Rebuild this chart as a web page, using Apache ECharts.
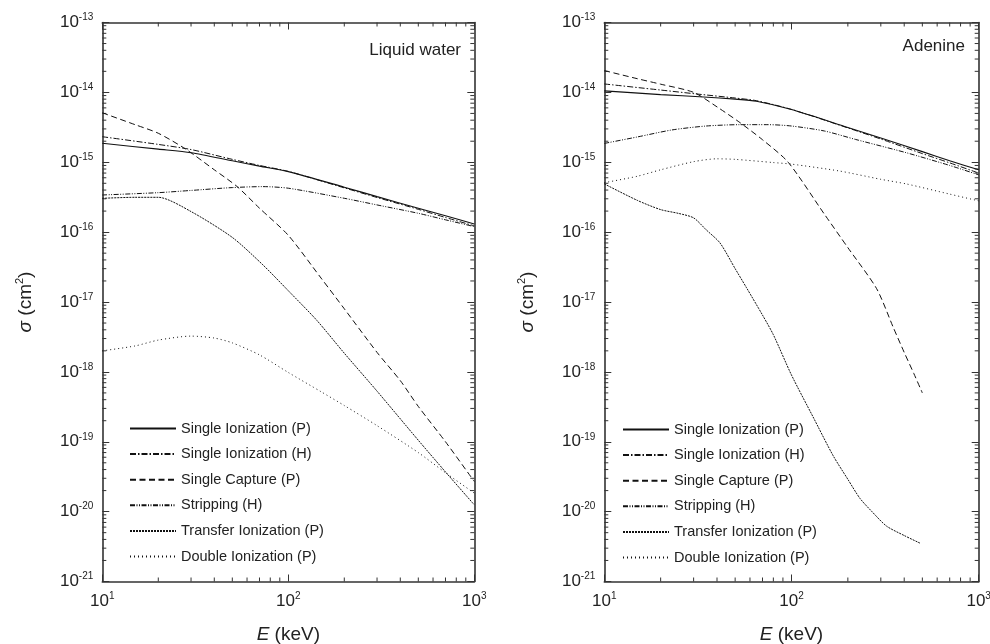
<!DOCTYPE html>
<html>
<head>
<meta charset="utf-8">
<script src="https://cdn.jsdelivr.net/npm/echarts@6/dist/echarts.min.js"></script>
<style>
html,body{margin:0;padding:0;background:#fff;}
#chart{width:990px;height:644px;}
</style>
</head>
<body>
<div id="chart"></div>
<script>
// ---------- data: [E (keV), sigma (cm^2)] ----------
const seriesNames = ['Single Ionization (P)','Single Ionization (H)','Single Capture (P)','Stripping (H)','Transfer Ionization (P)','Double Ionization (P)'];
const panelTitles = ['Liquid water','Adenine'];

const waterSIP = [[10,1.87e-15],[20,1.54e-15],[30,1.37e-15],[50,1.05e-15],[70,8.8e-16],[100,7.35e-16],[200,4.4e-16],[300,3.22e-16],[500,2.2e-16],[700,1.71e-16],[1000,1.31e-16]];
const waterSIH = [[10,2.32e-15],[20,1.8e-15],[30,1.52e-15],[50,1.1e-15],[70,9.0e-16],[100,7.4e-16],[200,4.3e-16],[300,3.13e-16],[500,2.12e-16],[700,1.62e-16],[1000,1.23e-16]];
const waterSCP = [[10,5.1e-15],[15,3.45e-15],[20,2.6e-15],[28,1.55e-15],[40,7.8e-16],[53,4.5e-16],[70,2.2e-16],[100,9e-17],[150,2.2e-17],[200,8e-18],[300,1.9e-18],[400,7.5e-19],[500,3.2e-19],[700,1e-19],[1000,2.7e-20]];
const waterStrip = [[10,3.4e-16],[20,3.67e-16],[30,3.95e-16],[50,4.34e-16],[73,4.48e-16],[100,4.25e-16],[200,3.05e-16],[300,2.45e-16],[500,1.86e-16],[700,1.5e-16],[1000,1.2e-16]];
const waterTI = [[10,3.05e-16],[15,3.15e-16],[20,3.15e-16],[30,1.97e-16],[50,8.4e-17],[73,3.4e-17],[100,1.45e-17],[142,5.5e-18],[200,1.85e-18],[300,5.3e-19],[500,1.05e-19],[700,3.7e-20],[1000,1.25e-20]];
const waterDI = [[10,2.0e-18],[15,2.35e-18],[20,2.85e-18],[30,3.25e-18],[40,3.05e-18],[50,2.6e-18],[70,1.75e-18],[100,9.8e-19],[150,5.2e-19],[200,3.3e-19],[300,1.7e-19],[500,7e-20],[700,3.6e-20],[1000,1.84e-20]];

const adeSIP = [[10,1.05e-14],[20,9.3e-15],[34,8.6e-15],[50,8.0e-15],[65,7.45e-15],[100,5.67e-15],[200,3.15e-15],[300,2.23e-15],[500,1.42e-15],[700,1.05e-15],[1000,7.8e-16]];
const adeSIH = [[10,1.32e-14],[20,1.08e-14],[31,9.5e-15],[50,8.3e-15],[65,7.6e-15],[100,5.7e-15],[200,3.1e-15],[300,2.15e-15],[500,1.33e-15],[700,9.8e-16],[1000,7.0e-16]];
const adeSCP = [[10,2.05e-14],[15,1.57e-14],[20,1.31e-14],[30,1.0e-14],[40,6.2e-15],[53,3.7e-15],[70,2.1e-15],[96,1.0e-15],[150,1.8e-16],[200,6e-17],[285,1.55e-17],[350,4.3e-18],[400,1.9e-18],[450,9.5e-19],[500,5e-19]];
const adeStrip = [[10,1.86e-15],[15,2.3e-15],[23,2.9e-15],[35,3.3e-15],[53,3.45e-15],[75,3.45e-15],[100,3.3e-15],[150,2.8e-15],[220,2.12e-15],[410,1.37e-15],[700,9.0e-16],[1000,6.6e-16]];
const adeTI = [[10,4.9e-16],[15,2.85e-16],[20,2.1e-16],[25,1.85e-16],[30,1.6e-16],[35,1.08e-16],[41.5,7e-17],[50,3.0e-17],[57.5,1.6e-17],[70,6.5e-18],[80,3.4e-18],[100,9e-19],[130,2.3e-19],[167,6.3e-20],[200,2.9e-20],[232,1.55e-20],[270,9.9e-21],[322,6.2e-21],[400,4.55e-21],[490,3.5e-21]];
const adeDI = [[10,5.1e-16],[15,6.3e-16],[20,7.8e-16],[30,1.02e-15],[40,1.12e-15],[50,1.1e-15],[80,9.9e-16],[100,9.4e-16],[180,7.5e-16],[300,5.7e-16],[410,4.9e-16],[700,3.5e-16],[1000,2.8e-16]];

const xRange = [10, 1000];
const yRange = [1e-21, 1e-13];
// the y axis works in units of 1e-21 cm^2 (the log scale mishandles very tiny numbers); labels show true powers
const Y_UNIT_EXP = -21;
const Y_UNIT = 1e-21;

// ---------- styles ----------
const FONT = 'Liberation Sans, Arial, Helvetica, sans-serif';
const INK = '#222';
const AX = '#333';
const dashStyles = ['solid', [6,2,1.5,2], [6,3.5], [5,1.5,1,1.5,1,1.5], [2,1], [1,3]];
const lineWidths = [1.1, 1, 1, 1, 1, 1];

const chart = echarts.init(document.getElementById('chart'), null, {renderer: 'canvas'});

const grids = [
  {left: 102.3, top: 22.5, width: 372, height: 559, containLabel: false, outerBoundsMode: 'none'},
  {left: 604.3, top: 22.5, width: 374.4, height: 559, containLabel: false, outerBoundsMode: 'none'}
];
const yMinScaled = Math.round(yRange[0] / Y_UNIT);
const yMaxScaled = Math.round(yRange[1] / Y_UNIT);

function xLabel(v) {
  return '{b|10}{s|' + Math.round(Math.log10(v)) + '}';
}
function yLabel(v) {
  return '{b|10}{s|' + (Math.round(Math.log10(v)) + Y_UNIT_EXP) + '}';
}
const labelRich = {
  b: {fontSize: 17, fontFamily: FONT, color: INK, lineHeight: 20},
  s: {fontSize: 10, fontFamily: FONT, color: INK, lineHeight: 12, verticalAlign: 'top'}
};

const xAxes = [], yAxes = [];
grids.forEach(function (g, i) {
  xAxes.push({
    type: 'log', logBase: 10, gridIndex: i, min: xRange[0], max: xRange[1], position: 'bottom',
    splitNumber: 2,
    axisLine: {show: true, lineStyle: {color: AX, width: 1.6}},
    axisTick: {show: true, inside: true, length: 7, lineStyle: {color: AX, width: 1}},
    axisLabel: {show: true, margin: 10, formatter: xLabel, rich: labelRich},
    splitLine: {show: false},
    name: '{i|E} (keV)', nameLocation: 'middle', nameGap: 44,
    nameTextStyle: {fontSize: 19, fontFamily: FONT, color: INK, rich: {i: {fontSize: 19, fontStyle: 'italic', fontFamily: FONT, color: INK}}}
  });
  xAxes.push({
    type: 'log', logBase: 10, gridIndex: i, min: xRange[0], max: xRange[1], position: 'top',
    splitNumber: 2,
    axisLine: {show: true, lineStyle: {color: AX, width: 1.6}},
    axisTick: {show: true, inside: true, length: 7, lineStyle: {color: AX, width: 1}},
    axisLabel: {show: false}, splitLine: {show: false}
  });
  yAxes.push({
    type: 'log', logBase: 10, gridIndex: i, min: yMinScaled, max: yMaxScaled, position: 'left',
    splitNumber: 8,
    axisLine: {show: true, lineStyle: {color: AX, width: 1.6}},
    axisTick: {show: true, inside: true, length: 7, lineStyle: {color: AX, width: 1}},
    axisLabel: {show: true, margin: 9, formatter: yLabel, rich: labelRich},
    splitLine: {show: false},
    name: '{i|σ} (cm{s|2})', nameLocation: 'middle', nameGap: 66, nameRotate: 90,
    nameTextStyle: {fontSize: 19, fontFamily: FONT, color: INK, rich: {
      i: {fontSize: 19, fontStyle: 'italic', fontFamily: FONT, color: INK, lineHeight: 22},
      s: {fontSize: 11, fontFamily: FONT, color: INK, lineHeight: 12, verticalAlign: 'top'}
    }}
  });
  yAxes.push({
    type: 'log', logBase: 10, gridIndex: i, min: yMinScaled, max: yMaxScaled, position: 'right',
    splitNumber: 8,
    axisLine: {show: true, lineStyle: {color: AX, width: 1.6}},
    axisTick: {show: true, inside: true, length: 7, lineStyle: {color: AX, width: 1}},
    axisLabel: {show: false}, splitLine: {show: false}
  });
});

// minor tick values (2..9 x decade), derived from the axis ranges
function minorValues(lo, hi) {
  const out = [];
  for (let e = Math.round(Math.log10(lo)); e < Math.round(Math.log10(hi)); e++) {
    for (let m = 2; m <= 9; m++) out.push(m * Math.pow(10, e));
  }
  return out;
}
const xMinor = minorValues(xRange[0], xRange[1]);
const yMinor = minorValues(yMinScaled, yMaxScaled);
const yMid = 1e4;

function tickLine(x1, y1, x2, y2) {
  return {type: 'line', shape: {x1: x1, y1: y1, x2: x2, y2: y2}, style: {stroke: AX, lineWidth: 1}, silent: true};
}

const series = [];
const panelData = [
  [waterSIP, waterSIH, waterSCP, waterStrip, waterTI, waterDI],
  [adeSIP, adeSIH, adeSCP, adeStrip, adeTI, adeDI]
];
panelData.forEach(function (list, p) {
  list.forEach(function (d, k) {
    series.push({
      type: 'line', name: seriesNames[k], xAxisIndex: p * 2, yAxisIndex: p * 2,
      data: d.map(function (pt) { return [pt[0], pt[1] / Y_UNIT]; }),
      symbol: 'none', showSymbol: false, smooth: 0.25, clip: true,
      lineStyle: {color: '#111', width: lineWidths[k], type: dashStyles[k]},
      itemStyle: {color: '#111'},
      emphasis: {disabled: true}
    });
  });
  series.push({
    type: 'custom', xAxisIndex: p * 2, yAxisIndex: p * 2, silent: true,
    data: xMinor.map(function (v) { return [v, yMid]; }),
    renderItem: function (params, api) {
      const x = api.coord([api.value(0), yMid])[0];
      const cs = params.coordSys;
      return {type: 'group', children: [
        tickLine(x, cs.y + cs.height, x, cs.y + cs.height - 4),
        tickLine(x, cs.y, x, cs.y + 4)
      ]};
    }
  });
  series.push({
    type: 'custom', xAxisIndex: p * 2, yAxisIndex: p * 2, silent: true,
    data: yMinor.map(function (v) { return [100, v]; }),
    renderItem: function (params, api) {
      const y = api.coord([100, api.value(1)])[1];
      const cs = params.coordSys;
      return {type: 'group', children: [
        tickLine(cs.x, y, cs.x + 4, y),
        tickLine(cs.x + cs.width, y, cs.x + cs.width - 4, y)
      ]};
    }
  });
});

const legendCommon = {
  orient: 'vertical', itemWidth: 46, itemHeight: 16, itemGap: 9.6, padding: 0,
  selectedMode: false,
  itemStyle: {opacity: 0, borderWidth: 0},
  textStyle: {fontSize: 14.5, fontFamily: FONT, color: INK, lineHeight: 16},
  data: seriesNames
};

const option = {
  animation: false,
  backgroundColor: '#fff',
  grid: grids,
  xAxis: xAxes,
  yAxis: yAxes,
  legend: [
    Object.assign({}, legendCommon, {left: 129, top: 420.5}),
    Object.assign({}, legendCommon, {left: 622, top: 421.5})
  ],
  graphic: [
    {type: 'text', x: 461, y: 50, style: {text: panelTitles[0], align: 'right', verticalAlign: 'middle', font: '17px ' + FONT, fill: INK}},
    {type: 'text', x: 965, y: 46, style: {text: panelTitles[1], align: 'right', verticalAlign: 'middle', font: '17px ' + FONT, fill: INK}}
  ],
  series: series
};
chart.setOption(option);
</script>
</body>
</html>
